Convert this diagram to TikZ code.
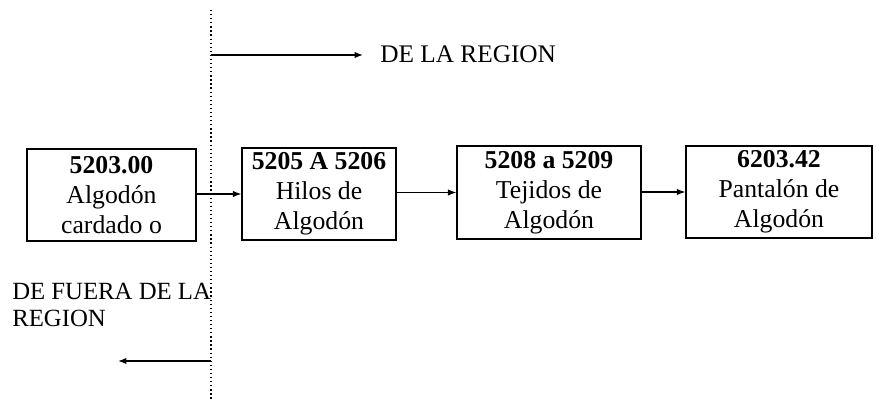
\documentclass[tikz,border=0pt]{standalone}
\usepackage{fontspec}
\setmainfont{Liberation Serif}
\usetikzlibrary{arrows.meta}

\tikzset{
  codebox/.style={draw, line width=0.8pt, inner sep=0pt, align=center,
    font=\fontsize{18.3}{21.3}\selectfont},
  flow/.style={-{Latex[length=6pt,width=4.5pt]}, line width=0.8pt},
  regionlabel/.style={font=\fontsize{18}{19}\selectfont, inner sep=0pt}
}

\begin{document}
\begin{tikzpicture}[x=0.025cm, y=-0.025cm]
  \useasboundingbox (0,0) rectangle (876,400);

  % Border between the two regions
  \coordinate (top) at (211,10);
  \coordinate (bottom) at (211,400);
  \draw[dotted, line width=0.9pt] (top) -- (bottom);

  % Direction labels
  \coordinate (inStart) at (211,55);
  \coordinate (inEnd) at (363,55);
  \draw[flow] (inStart) -- (inEnd);
  \node[regionlabel, anchor=base west] (dentro) at (380,63) {DE LA REGION};

  \node[regionlabel, anchor=north west, align=left,
    font=\fontsize{17.6}{19}\selectfont] (fuera) at (12,283)
    {DE FUERA DE LA\\REGION};
  \coordinate (outStart) at (211,361);
  \coordinate (outEnd) at (118,361);
  \draw[flow] (outStart) -- (outEnd);

  % Chain of tariff headings
  \node[codebox, minimum width=4.225cm, minimum height=2.3cm] (algodon) at (111.5,195)
    {\textbf{5203.00}\\Algodón\\cardado o};
  \node[codebox, minimum width=3.85cm, minimum height=2.3cm] (hilos) at (319,194)
    {\textbf{5205 A 5206}\\Hilos de\\Algodón};
  \node[codebox, minimum width=4.6cm, minimum height=2.325cm] (tejidos) at (549,192.5)
    {\textbf{5208 a 5209}\\Tejidos de\\Algodón};
  \node[codebox, minimum width=4.65cm, minimum height=2.3cm] (pantalon) at (779,192)
    {\textbf{6203.42}\\Pantalón de\\Algodón};

  % Arrows between the boxes
  \draw[flow] (algodon.east |- hilos.west) -- (hilos.west);
  \draw[flow] (hilos.east |- tejidos.west) -- (tejidos.west);
  \draw[flow] (tejidos.east |- pantalon.west) -- (pantalon.west);
\end{tikzpicture}
\end{document}
